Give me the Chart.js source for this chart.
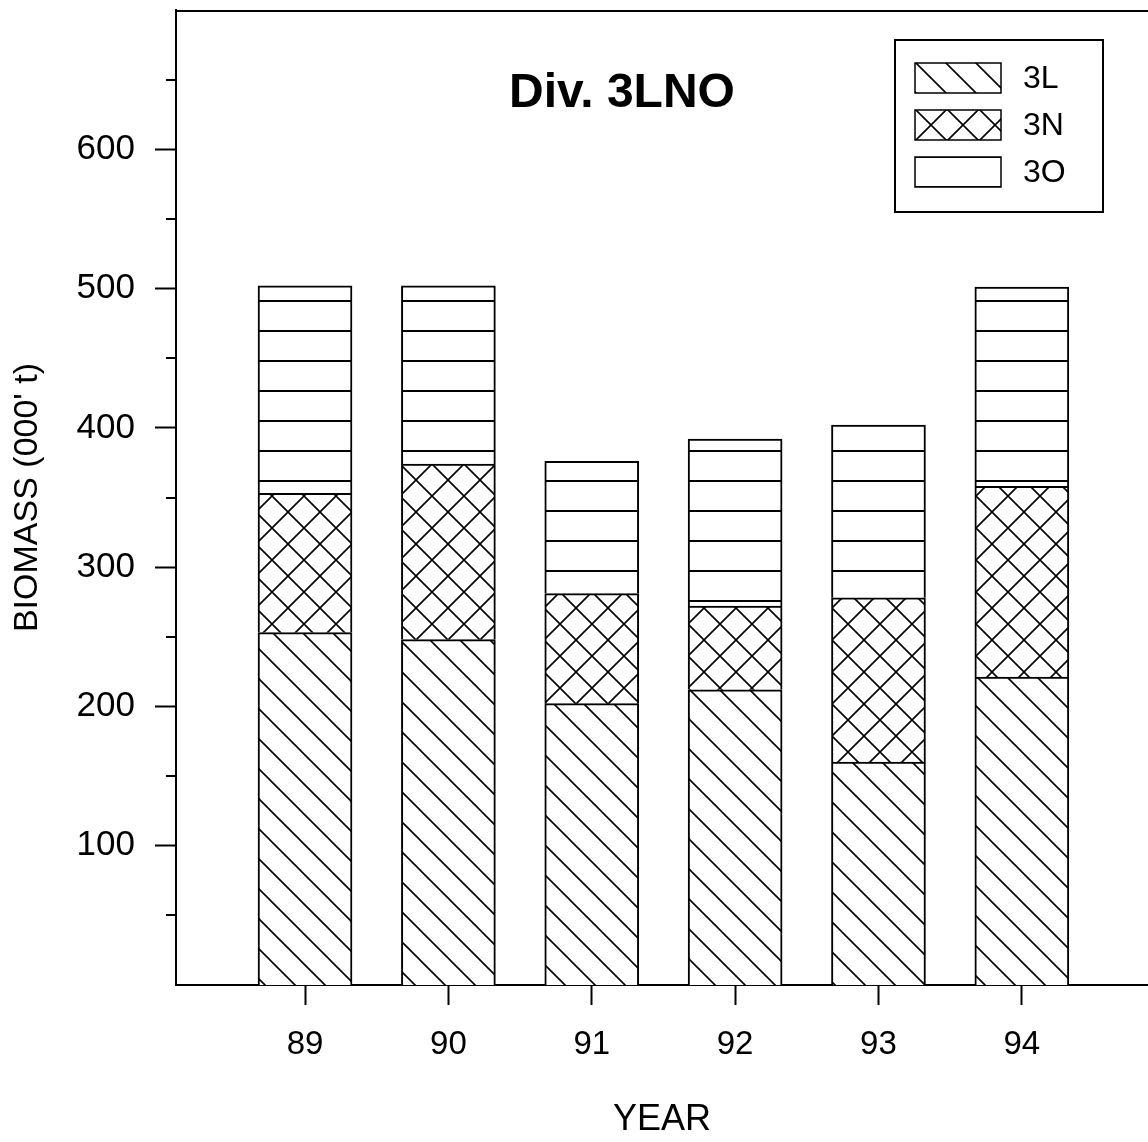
<!DOCTYPE html>
<html>
<head>
<meta charset="utf-8">
<title>Div. 3LNO biomass</title>
<script src="https://cdn.jsdelivr.net/npm/chart.js@4.4.1/dist/chart.umd.min.js"></script>
<style>
  html, body { margin: 0; padding: 0; background: #fff; overflow: hidden; }
  canvas { display: block; }
</style>
</head>
<body>
<canvas id="biomassChart" width="1148" height="1142"></canvas>
<script>
// values ('000 t)
const years = [89, 90, 91, 92, 93, 94];
const div3L = [253, 248, 202, 212, 160, 221];
const div3N = [100, 126, 79, 60, 118, 137];
const div3O = [149, 128, 95, 120, 124, 143];
const yMajorTicks = [100, 200, 300, 400, 500, 600];
const yMinorTicks = [50, 150, 250, 350, 450, 550, 650];

const FONT = '"Liberation Sans", Arial, sans-serif';
const canvas = document.getElementById('biomassChart');
const mainCtx = canvas.getContext('2d');

function makePattern(kind) {
    const s = kind === 'cross' ? 32 : 30;
    const c = document.createElement('canvas');
    c.width = s;
    c.height = s;
    const g = c.getContext('2d');
    g.fillStyle = '#fff';
    g.fillRect(0, 0, s, s);
    g.strokeStyle = '#000';
    g.lineWidth = kind === 'horiz' ? 2 : 1.6;
    g.beginPath();
    if (kind === 'horiz') {
        g.moveTo(0, 1);
        g.lineTo(s, 1);
    } else {
        for (let k = -1; k <= 1; k++) {
            g.moveTo(-2, -2 + k * s);
            g.lineTo(s + 2, s + 2 + k * s);
            if (kind === 'cross') {
                g.moveTo(-2, s + 2 + k * s);
                g.lineTo(s + 2, -2 + k * s);
            }
        }
    }
    g.stroke();
    return mainCtx.createPattern(c, 'repeat');
}

function toPoints(values) {
    return years.map((yr, i) => ({ x: yr, y: values[i] }));
}

// minor y ticks, frame top edge, inner title and legend box
const decorations = {
    id: 'decorations',
    afterDraw(chart) {
        const { ctx, chartArea, scales } = chart;
        ctx.save();
        ctx.strokeStyle = '#000';
        ctx.lineWidth = 2;
        ctx.beginPath();
        yMinorTicks.forEach(v => {
            const py = Math.round(scales.y.getPixelForValue(v));
            ctx.moveTo(chartArea.left - 10, py);
            ctx.lineTo(chartArea.left, py);
        });
        ctx.moveTo(chartArea.left, chartArea.top + 1);
        ctx.lineTo(chartArea.right, chartArea.top + 1);
        ctx.stroke();

        // title
        ctx.fillStyle = '#000';
        ctx.font = 'bold 48px ' + FONT;
        ctx.textAlign = 'center';
        ctx.textBaseline = 'middle';
        ctx.fillText('Div. 3LNO', 622, 94);

        // legend
        const lx = 895, ly = 40;
        ctx.lineWidth = 2;
        ctx.strokeRect(lx, ly, 208, 172);
        ctx.font = '32px ' + FONT;
        ctx.textAlign = 'left';
        chart.data.datasets.forEach((ds, i) => {
            const sy = ly + 23 + i * 47;
            ctx.save();
            ctx.translate(lx + 20, sy - 1);
            ctx.fillStyle = ds.backgroundColor;
            ctx.fillRect(0, 1, 86, 30);
            ctx.lineWidth = 1.5;
            ctx.strokeRect(0, 1, 86, 30);
            ctx.restore();
            ctx.fillStyle = '#000';
            ctx.fillText(ds.label, lx + 128, sy + 16);
        });
        ctx.restore();
    }
};

new Chart(canvas, {
    type: 'bar',
    data: {
        datasets: [
            { label: '3L', data: toPoints(div3L), backgroundColor: makePattern('diag') },
            { label: '3N', data: toPoints(div3N), backgroundColor: makePattern('cross') },
            { label: '3O', data: toPoints(div3O), backgroundColor: makePattern('horiz') }
        ]
    },
    options: {
        responsive: false,
        animation: false,
        devicePixelRatio: 1,
        layout: { padding: { top: 10, left: 0, right: 0, bottom: 0 } },
        datasets: {
            bar: {
                barThickness: 94,
                borderColor: '#000',
                borderWidth: 2
            }
        },
        plugins: {
            legend: { display: false },
            tooltip: { enabled: false }
        },
        scales: {
            x: {
                type: 'linear',
                stacked: true,
                min: 88.1,
                max: 94.88,
                offset: false,
                afterFit: s => {
                    s.height = 157;
                    s.paddingLeft = 0;
                    s.paddingRight = 0;
                },
                afterBuildTicks: s => { s.ticks = years.map(v => ({ value: v })); },
                ticks: {
                    color: '#000',
                    padding: 20,
                    font: { family: FONT, size: 33 },
                    callback: v => String(v)
                },
                grid: {
                    offset: false,
                    drawOnChartArea: false,
                    tickLength: 20,
                    tickWidth: 2,
                    tickColor: '#000'
                },
                border: { display: true, color: '#000', width: 2 },
                title: {
                    display: true,
                    text: 'YEAR',
                    color: '#000',
                    font: { family: FONT, size: 36 },
                    padding: { top: 0, bottom: 0 }
                }
            },
            y: {
                stacked: true,
                min: 0,
                max: 700,
                afterFit: s => {
                    s.width = 176;
                    s.paddingTop = 0;
                    s.paddingBottom = 0;
                },
                afterBuildTicks: s => { s.ticks = yMajorTicks.map(v => ({ value: v })); },
                ticks: {
                    color: '#000',
                    padding: 20,
                    font: { family: FONT, size: 35 }
                },
                grid: {
                    drawOnChartArea: false,
                    tickLength: 21,
                    tickWidth: 2,
                    tickColor: '#000'
                },
                border: { display: true, color: '#000', width: 2 },
                title: {
                    display: true,
                    text: "BIOMASS (000' t)",
                    color: '#000',
                    font: { family: FONT, size: 34 },
                    padding: { top: 7, bottom: 0 }
                }
            }
        }
    },
    plugins: [decorations]
});
</script>
</body>
</html>
